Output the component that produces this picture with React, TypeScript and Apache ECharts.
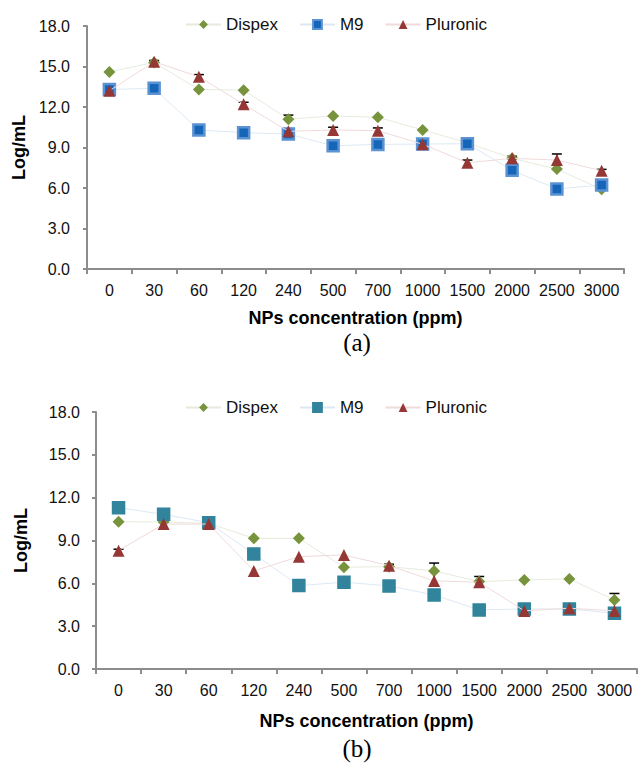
import React, { useEffect, useRef } from "react";
import * as echarts from "echarts";

const categories = ["0", "30", "60", "120", "240", "500", "700", "1000", "1500", "2000", "2500", "3000"];
const seriesNames = ["Dispex", "M9", "Pluronic"];
const yTicks = [0, 3, 6, 9, 12, 15, 18];

// Panel (a)
const dispexA = [14.6, 15.3, 13.3, 13.25, 11.1, 11.33, 11.24, 10.3, 9.35, 8.2, 7.4, 5.9];
const m9A = [13.3, 13.38, 10.3, 10.1, 10.0, 9.13, 9.23, 9.26, 9.28, 7.31, 5.93, 6.22];
const pluronicA = [13.2, 15.35, 14.25, 12.2, 10.2, 10.3, 10.25, 9.24, 7.87, 8.2, 8.07, 7.28];
const dispexErrA = [0, 0, 0, 0, 0.3, 0, 0, 0, 0, 0, 0, 0];
const m9ErrA = [0, 0, 0, 0, 0, 0, 0, 0, 0, 0, 0, 0.1];
const pluronicErrA = [0, 0.1, 0.15, 0.15, 0.2, 0.2, 0.2, 0, 0.2, 0.15, 0.45, 0.1];

// Panel (b)
const dispexB = [10.31, 10.3, 10.2, 9.15, 9.15, 7.13, 7.17, 6.87, 6.12, 6.24, 6.31, 4.84];
const m9B = [11.3, 10.83, 10.25, 8.06, 5.84, 6.08, 5.82, 5.19, 4.14, 4.21, 4.2, 3.91];
const pluronicB = [8.29, 10.15, 10.15, 6.87, 7.87, 7.99, 7.24, 6.17, 6.08, 4.07, 4.26, 4.07];
const dispexErrB = [0, 0, 0, 0, 0, 0, 0, 0.55, 0, 0, 0, 0.45];
const m9ErrB = [0, 0.2, 0, 0, 0, 0, 0, 0, 0, 0, 0, 0];
const pluronicErrB = [0.1, 0, 0, 0, 0, 0, 0.1, 0, 0.4, 0, 0, 0.1];

type PanelCfg = {
  top: number;
  height: number;
  gridLeft: number;
  gridRight: number;
  gridTop: number;
  gridHeight: number;
  legendTop: number;
  legendLeft: number;
  yLabelMargin: number;
  yNameGap: number;
  xNameGap: number;
  label: string;
  labelY: number;
  values: number[][];
  errors: number[][];
  m9Fill: string;
  m9Border: string;
};

function Panel({ cfg }: { cfg: PanelCfg }) {
  const ref = useRef<HTMLDivElement>(null);
  useEffect(() => {
    if (!ref.current) return;
    const chart = echarts.init(ref.current, null, { renderer: "svg" });
    const markerStyles = [
      { symbol: "diamond", size: 12, color: "#77933C", border: "#77933C", line: "#e6ebdc" },
      { symbol: "rect", size: 11, color: cfg.m9Fill, border: cfg.m9Border, line: "#dde8f3" },
      { symbol: "triangle", size: 12, color: "#953735", border: "#953735", line: "#f0dada" },
    ];
    const errData: number[][] = [];
    cfg.values.forEach((vals, s) => {
      vals.forEach((v, i) => {
        const e = cfg.errors[s][i];
        if (e > 0) errData.push([i, v, e]);
      });
    });
    const font = "'Liberation Sans', Arial, sans-serif";
    chart.setOption({
      animation: false,
      legend: {
        top: cfg.legendTop,
        left: cfg.legendLeft,
        itemWidth: 35,
        itemHeight: 11,
        itemGap: 21,
        textStyle: { fontFamily: font, fontSize: 17, color: "#111" },
        data: seriesNames,
      },
      grid: {
        left: cfg.gridLeft,
        right: cfg.gridRight,
        top: cfg.gridTop,
        height: cfg.gridHeight,
      },
      xAxis: {
        type: "category",
        data: categories,
        name: "NPs concentration (ppm)",
        nameLocation: "middle",
        nameGap: cfg.xNameGap,
        nameTextStyle: { fontFamily: font, fontSize: 18, fontWeight: "bold", color: "#000" },
        axisLine: { lineStyle: { color: "#8c8c8c", width: 2 } },
        axisTick: { show: true, length: 5, lineStyle: { color: "#8c8c8c", width: 2 } },
        axisLabel: { fontFamily: font, fontSize: 16, color: "#111", margin: 13, interval: 0 },
        splitLine: { show: false },
      },
      yAxis: {
        type: "value",
        min: yTicks[0],
        max: yTicks[yTicks.length - 1],
        interval: 3,
        name: "Log/mL",
        nameLocation: "middle",
        nameGap: cfg.yNameGap,
        nameTextStyle: { fontFamily: font, fontSize: 18, fontWeight: "bold", color: "#000" },
        axisLine: { show: true, lineStyle: { color: "#8c8c8c", width: 2 } },
        axisTick: { show: true, length: 4, lineStyle: { color: "#8c8c8c", width: 2 } },
        axisLabel: {
          fontFamily: font,
          fontSize: 16,
          color: "#111",
          margin: cfg.yLabelMargin,
          formatter: (v: number) => v.toFixed(1),
        },
        splitLine: { show: false },
      },
      series: [
        {
          type: "custom",
          name: "err",
          z: 1,
          data: errData,
          renderItem: (params: any, api: any) => {
            const x = api.value(0);
            const v = api.value(1);
            const e = api.value(2);
            const p0 = api.coord([x, v - e]);
            const p1 = api.coord([x, v + e]);
            return {
              type: "group",
              children: [
                { type: "line", shape: { x1: p0[0], y1: p0[1], x2: p1[0], y2: p1[1] }, style: { stroke: "#000", lineWidth: 1.2 } },
                { type: "line", shape: { x1: p1[0] - 5, y1: p1[1], x2: p1[0] + 5, y2: p1[1] }, style: { stroke: "#000", lineWidth: 1.5 } },
              ],
            };
          },
        },
        ...seriesNames.map((name, s) => ({
          type: "line",
          name,
          z: 3 + s,
          data: cfg.values[s],
          symbol: markerStyles[s].symbol,
          symbolSize: markerStyles[s].size,
          showSymbol: true,
          lineStyle: { color: markerStyles[s].line, width: 1 },
          itemStyle: {
            color: markerStyles[s].color,
            borderColor: markerStyles[s].border,
            borderWidth: s === 1 ? 2.5 : 0,
          },
          emphasis: { disabled: true },
        })),
      ],
      graphic: [
        {
          type: "text",
          x: 357,
          y: cfg.labelY,
          style: {
            text: cfg.label,
            font: "25px 'Liberation Serif', 'Times New Roman', serif",
            fill: "#000",
            textAlign: "center",
            textVerticalAlign: "middle",
          },
        },
      ],
    });
    return () => chart.dispose();
  }, [cfg]);
  return (
    <div
      ref={ref}
      style={{ position: "absolute", left: 0, top: cfg.top, width: 641, height: cfg.height }}
    />
  );
}

const cfgA: PanelCfg = {
  top: 0,
  height: 372,
  gridLeft: 87,
  gridRight: 17,
  gridTop: 26,
  gridHeight: 243,
  legendTop: 11,
  legendLeft: 180,
  yLabelMargin: 17,
  yNameGap: 53,
  xNameGap: 40,
  label: "(a)",
  labelY: 342,
  values: [dispexA, m9A, pluronicA],
  errors: [dispexErrA, m9ErrA, pluronicErrA],
  m9Fill: "#1565b8",
  m9Border: "#5b92d2",
};

const cfgB: PanelCfg = {
  top: 372,
  height: 392,
  gridLeft: 96,
  gridRight: 4,
  gridTop: 40,
  gridHeight: 257,
  legendTop: 22,
  legendLeft: 180,
  yLabelMargin: 16,
  yNameGap: 66,
  xNameGap: 43,
  label: "(b)",
  labelY: 376,
  values: [dispexB, m9B, pluronicB],
  errors: [dispexErrB, m9ErrB, pluronicErrB],
  m9Fill: "#31849B",
  m9Border: "#31849B",
};

export default function App() {
  return (
    <div style={{ position: "fixed", left: 0, top: 0, width: 641, height: 764, background: "#fff" }}>
      <Panel cfg={cfgA} />
      <Panel cfg={cfgB} />
    </div>
  );
}
